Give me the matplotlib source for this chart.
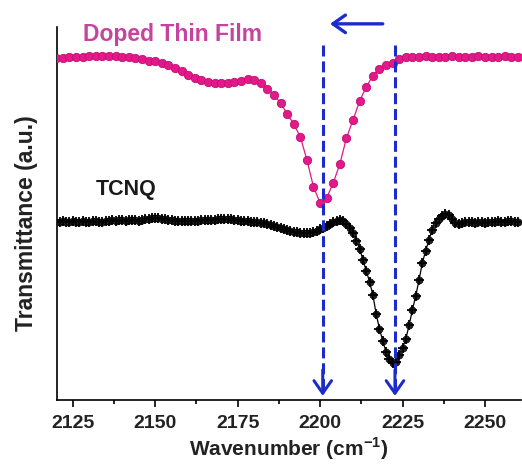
import numpy as np
import matplotlib
matplotlib.use("Agg")
import matplotlib.pyplot as plt
from matplotlib.ticker import MultipleLocator

plt.rcParams['font.family'] = ['Liberation Sans', 'DejaVu Sans']
plt.rcParams['mathtext.fontset'] = 'custom'
plt.rcParams['mathtext.rm'] = 'Liberation Sans'
plt.rcParams['mathtext.bf'] = 'Liberation Sans:bold'

# TCNQ spectrum, 1 cm-1 sampling from 2120 to 2260
tcnq_wn = np.arange(2120, 2261, 1.0)
tcnq_t = np.array([
    1.78, 1.78, 1.79, 1.78, 1.78, 1.79, 1.78, 1.78, 1.79, 1.78,   # 2120-2129
    1.78, 1.79, 1.79, 1.78, 1.78, 1.79, 1.79, 1.80, 1.79, 1.80,   # 2130-2139
    1.80, 1.79, 1.80, 1.80, 1.80, 1.79, 1.80, 1.81, 1.81, 1.82,   # 2140-2149
    1.82, 1.82, 1.81, 1.81, 1.80, 1.80, 1.79, 1.79, 1.79, 1.79,   # 2150-2159
    1.79, 1.79, 1.79, 1.79, 1.80, 1.80, 1.80, 1.80, 1.80, 1.81,   # 2160-2169
    1.81, 1.81, 1.81, 1.81, 1.80, 1.80, 1.79, 1.79, 1.79, 1.78,   # 2170-2179
    1.78, 1.78, 1.77, 1.77, 1.76, 1.75, 1.74, 1.73, 1.72, 1.71,   # 2180-2189
    1.70, 1.69, 1.68, 1.68, 1.67, 1.67, 1.67, 1.67, 1.68, 1.69,   # 2190-2199
    1.71, 1.72, 1.74, 1.76, 1.78, 1.79, 1.80, 1.79, 1.76, 1.72,   # 2200-2209
    1.67, 1.59, 1.51, 1.40, 1.29, 1.18, 1.05, 0.86, 0.71, 0.59,   # 2210-2219
    0.48, 0.41, 0.37, 0.38, 0.45, 0.52, 0.61, 0.75, 0.90, 1.04,   # 2220-2229
    1.20, 1.37, 1.49, 1.60, 1.70, 1.77, 1.81, 1.84, 1.86, 1.85,   # 2230-2239
    1.81, 1.77, 1.76, 1.77, 1.78, 1.78, 1.78, 1.77, 1.78, 1.78,   # 2240-2249
    1.77, 1.78, 1.78, 1.78, 1.79, 1.78, 1.78, 1.79, 1.79, 1.78,   # 2250-2259
    1.78,                                                         # 2260
])

# Doped thin film spectrum, 2 cm-1 sampling from 2120 to 2260
film_wn = np.arange(2120, 2261, 2.0)
film_t = np.array([
    3.42, 3.42, 3.43, 3.43, 3.43, 3.44, 3.44, 3.44, 3.44, 3.44,   # 2120-2138
    3.43, 3.43, 3.42, 3.41, 3.39, 3.39, 3.37, 3.35, 3.32, 3.29,   # 2140-2158
    3.25, 3.22, 3.20, 3.18, 3.17, 3.17, 3.17, 3.18, 3.19, 3.21,   # 2160-2178
    3.20, 3.17, 3.11, 3.05, 2.97, 2.86, 2.76, 2.63, 2.40, 2.13,   # 2180-2198
    1.97, 2.02, 2.17, 2.36, 2.62, 2.80, 2.99, 3.13, 3.24, 3.31,   # 2200-2218
    3.35, 3.37, 3.41, 3.43, 3.43, 3.43, 3.44, 3.43, 3.43, 3.43,   # 2220-2238
    3.44, 3.43, 3.43, 3.43, 3.44, 3.43, 3.43, 3.43, 3.44, 3.43,   # 2240-2258
    3.43,                                                         # 2260
])

x_ticks = [2125, 2150, 2175, 2200, 2225, 2250]
peak_positions = [2200.8, 2222.7]
series_labels = ["Doped Thin Film", "TCNQ"]

pink = '#e3198b'
pink_text = '#c4449e'
blue = '#1c2ccc'

fig = plt.figure(figsize=(5.22, 4.71), dpi=100)
ax = fig.add_axes([0.109, 0.151, 0.889, 0.792])

# doped film trace
ax.plot(film_wn, film_t, '-', color=pink, lw=0.9, zorder=3)
ax.plot(film_wn, film_t, 'o', ms=6.0, color=pink, mec='#c0106f', mew=0.6, zorder=4)

# TCNQ trace
ax.plot(tcnq_wn, tcnq_t, '-', color='black', lw=0.9, zorder=3)
ax.plot(tcnq_wn, tcnq_t, 'o', ms=5.0, color='#222222', mec='black', mew=0.5, zorder=4)
ax.plot(tcnq_wn, tcnq_t, '+', ms=7.5, color='black', mew=1.3, zorder=4)

# dashed guides with arrowheads marking the two CN band positions
for xp in peak_positions:
    ax.plot([xp, xp], [3.55, 0.12], linestyle=(0, (3.6, 1.6)), color=blue,
            lw=2.2, zorder=5, clip_on=False)
    ax.annotate("", xy=(xp, 0.04), xytext=(xp, 0.30),
                arrowprops=dict(arrowstyle='->,head_length=0.6,head_width=0.42',
                                color=blue, lw=2.2, mutation_scale=15,
                                shrinkA=0, shrinkB=0),
                zorder=6, annotation_clip=False)

# shift arrow
ax.annotate("", xy=(2203.0, 3.76), xytext=(2219.0, 3.76),
            arrowprops=dict(arrowstyle='->,head_length=0.6,head_width=0.42',
                            color=blue, lw=2.4, mutation_scale=15,
                            shrinkA=0, shrinkB=0),
            annotation_clip=False)

ax.text(2128.0, 3.65, series_labels[0], color=pink_text, fontsize=16.5,
        fontweight='bold', va='center', ha='left', clip_on=False)
ax.text(2132.0, 2.10, series_labels[1], color='#1a1a1a', fontsize=15.5,
        fontweight='bold', va='center', ha='left')

ax.set_xlim(2120.2, 2260.9)
ax.set_ylim(0, 3.73)
ax.set_xticks(x_ticks)
ax.xaxis.set_minor_locator(MultipleLocator(12.5))
ax.set_yticks([])

ax.spines['top'].set_visible(False)
ax.spines['right'].set_visible(False)
ax.spines['left'].set_linewidth(1.2)
ax.spines['bottom'].set_linewidth(1.2)

ax.tick_params(axis='x', which='major', direction='out', length=5, width=1.2,
               labelsize=14, labelcolor='#222222', pad=6)
ax.tick_params(axis='x', which='minor', direction='out', length=3, width=1.2)
for lbl in ax.get_xticklabels():
    lbl.set_fontweight('bold')

ax.set_xlabel("Wavenumber (cm$^{\\mathbf{-1}}$)", fontsize=15, fontweight='bold',
              color='#222222', labelpad=2)
ax.set_ylabel("Transmittance (a.u.)", fontsize=16.5, fontweight='bold',
              color='#222222')
ax.yaxis.set_label_coords(-0.04, 0.475)

fig.savefig("out.png", dpi=100)
